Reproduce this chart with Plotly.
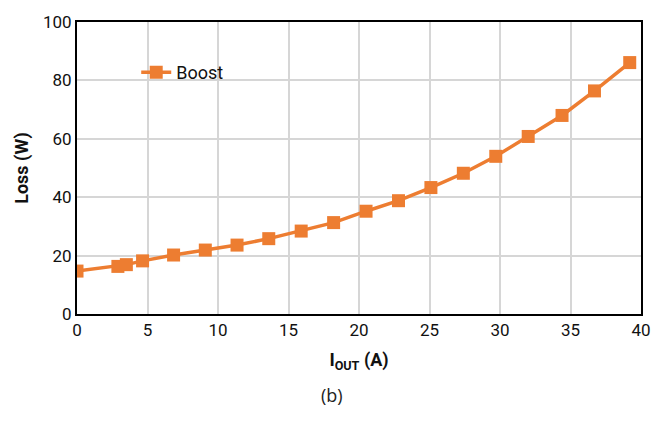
import plotly.graph_objects as go

iout = [0.0, 2.9, 3.5, 4.65, 6.85, 9.1, 11.35, 13.6, 15.9, 18.2, 20.5, 22.8, 25.1, 27.4, 29.7, 32.0, 34.4, 36.7, 39.2]
loss = [14.7, 16.3, 16.9, 18.2, 20.2, 21.9, 23.6, 25.8, 28.4, 31.3, 35.2, 38.8, 43.3, 48.2, 54.0, 60.8, 68.0, 76.4, 86.1]
xticks = [0, 5, 10, 15, 20, 25, 30, 35, 40]
yticks = [0, 20, 40, 60, 80, 100]

fam = "Roboto, Liberation Sans"
tickfont = dict(family=fam, size=17, color="#111")
orange = "#ED7D31"

fig = go.Figure()
fig.add_trace(go.Scatter(
    x=iout, y=loss, mode="lines+markers", name="Boost",
    line=dict(color=orange, width=3.5),
    marker=dict(symbol="square", size=13, color=orange),
))

fig.update_layout(
    width=663, height=423,
    margin=dict(l=77, r=21, t=14, b=109),
    paper_bgcolor="white", plot_bgcolor="white",
    showlegend=True,
    legend=dict(x=0.105, y=0.827, xanchor="left", yanchor="middle",
                bgcolor="rgba(0,0,0,0)", font=dict(family=fam, size=18, color="#111"),
                borderwidth=0),
    shapes=[dict(type="rect", xref="paper", yref="paper",
                 x0=(130 - 77) / 565, x1=(240 - 77) / 565,
                 y0=(314 - 98) / 300, y1=(314 - 50) / 300,
                 fillcolor="white", line=dict(width=0), layer="between")],
    annotations=[dict(text="(b)", xref="paper", yref="paper", x=0.453, y=-0.277,
                      xanchor="center", yanchor="middle", showarrow=False,
                      font=dict(family="Open Sans, DejaVu Sans", size=18, color="#222"))],
)
fig.update_xaxes(
    range=[0, 40], tickvals=xticks, ticktext=[str(v) for v in xticks],
    showgrid=True, gridcolor="#d6d6d6", gridwidth=1.5,
    showline=True, linecolor="black", linewidth=2, mirror=True,
    ticks="", tickfont=tickfont, zeroline=False,
    title=dict(text="<b>I<sub>OUT</sub> (A)</b>", font=dict(family=fam, size=18, color="#111"), standoff=14),
)
fig.update_yaxes(
    range=[0, 100], tickvals=yticks, ticktext=[str(v) for v in yticks],
    showgrid=True, gridcolor="#d6d6d6", gridwidth=1.5,
    showline=True, linecolor="black", linewidth=2, mirror=True,
    ticks="", tickfont=tickfont, zeroline=False,
    title=dict(text="<b>Loss (W)</b>", font=dict(family=fam, size=18, color="#111"), standoff=10),
)
fig.write_html("out.html")
